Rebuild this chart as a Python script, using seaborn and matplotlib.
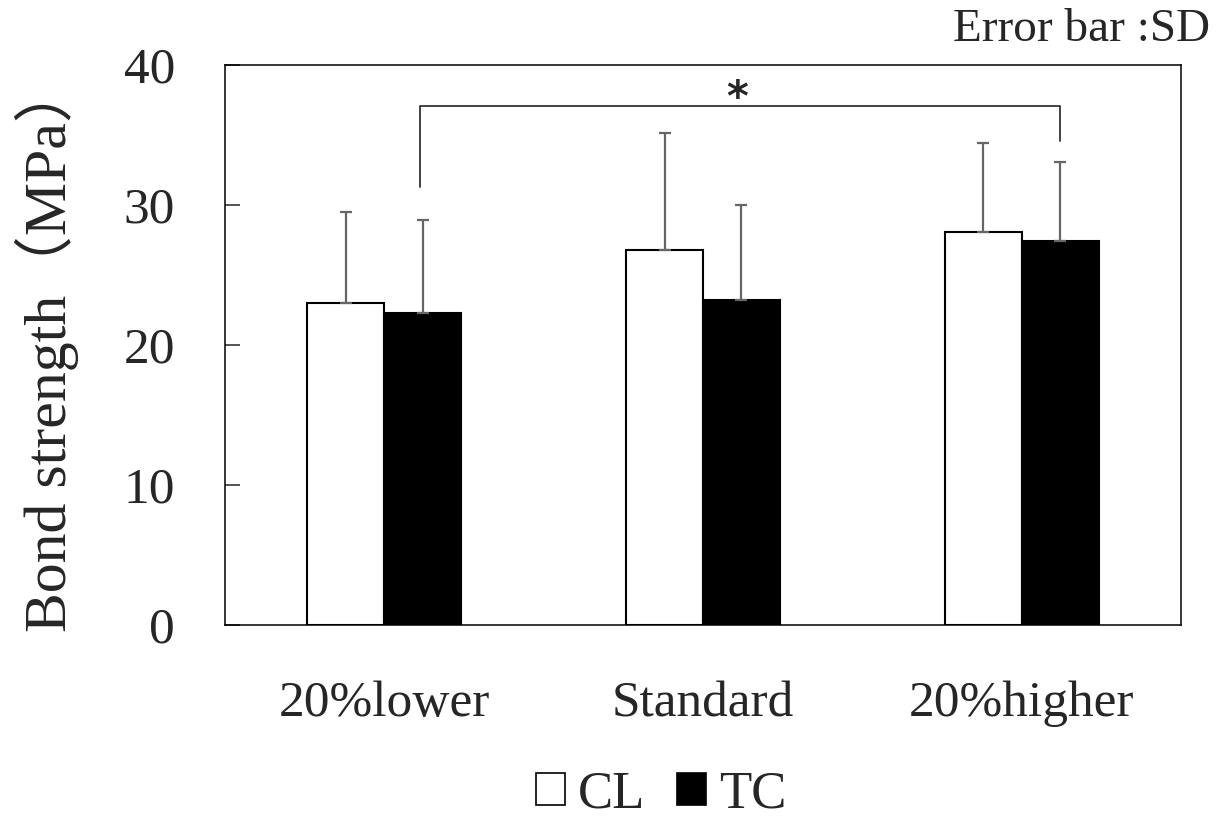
import matplotlib
matplotlib.use("Agg")
import matplotlib.pyplot as plt
import seaborn as sns
import pandas as pd
import numpy as np
from matplotlib.patches import Patch

categories = ["20%lower", "Standard", "20%higher"]
groups = ["CL", "TC"]
cl_mean = [23.0, 26.8, 28.05]
tc_mean = [22.3, 23.2, 27.4]
cl_sd = [6.5, 8.35, 6.4]
tc_sd = [6.6, 6.8, 5.7]
y_ticks = [0, 10, 20, 30, 40]

sns.set_theme(style="white")
plt.rcParams['font.family'] = ['Liberation Serif', 'Noto Sans CJK JP', 'DejaVu Sans']

df = pd.DataFrame({
    "cond": categories * 2,
    "group": ["CL"] * 3 + ["TC"] * 3,
    "value": cl_mean + tc_mean,
})

fig = plt.figure(figsize=(12.2, 8.23), dpi=100)
ax = fig.add_axes([225/1220, 1 - 625/823, 956/1220, 560/823])

sns.barplot(data=df, x="cond", y="value", hue="group", order=categories,
            hue_order=groups, palette={"CL": "white", "TC": "black"},
            edgecolor="black", linewidth=1.5, width=0.483, gap=0,
            errorbar=None, legend=False, ax=ax)

# error bars (upper only)
sds = cl_sd + tc_sd
means = cl_mean + tc_mean
for p, m, s in zip(ax.patches[:6], means, sds):
    xc = p.get_x() + p.get_width() / 2
    ax.errorbar(xc, m, yerr=[[0], [s]], fmt="none", ecolor="#666666",
                elinewidth=1.6, capsize=4.3, capthick=1.6, zorder=1)

ax.set_xlim(-0.5, 2.5)
ax.set_ylim(0, 40)
ax.set_yticks(y_ticks)
ax.set_xlabel("")
ax.set_ylabel("Bond strength（MPa）", fontsize=43)
ax.yaxis.set_label_coords(-0.153, 0.496)
ax.tick_params(axis="y", direction="in", length=11, width=1.1, pad=36,
               labelsize=37, left=True)
ax.tick_params(axis="x", length=0, pad=40, labelsize=37)
for sp in ax.spines.values():
    sp.set_visible(True)
    sp.set_color("black")
    sp.set_linewidth(1.1)

# significance bracket
x_l = ax.patches[3].get_x() + ax.patches[3].get_width() / 2 - 0.01
x_r = ax.patches[5].get_x() + ax.patches[5].get_width() / 2
ax.plot([x_l, x_l, x_r, x_r], [31.3, 37.1, 37.1, 34.6], color="#333333",
        lw=1.3, clip_on=False)
ax.text(((x_l + x_r) / 2) - 0.01, 37.6, "*", ha="center", va="center",
        fontsize=30, fontweight="bold", family="DejaVu Sans")

fig.text(1210/1220, 1 - 30/823, "Error bar :SD", ha="right", va="center",
         fontsize=34)

handles = [Patch(facecolor="white", edgecolor="black", linewidth=1.2),
           Patch(facecolor="black", edgecolor="black", linewidth=1.2)]
fig.legend(handles, groups, loc="center", bbox_to_anchor=(661/1220, 1 - 795/823),
           ncol=2, frameon=False, fontsize=38, handlelength=0.55,
           handleheight=0.55, handletextpad=0.25, columnspacing=0.6)

fig.savefig("out.png", dpi=100)
